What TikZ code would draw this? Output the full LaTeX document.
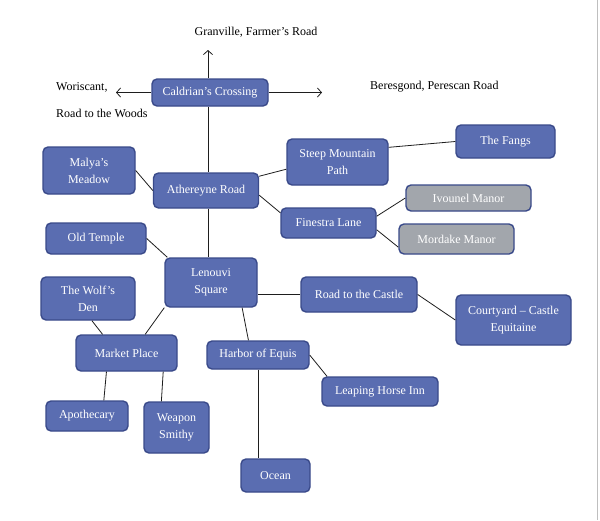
\documentclass[tikz,border=0pt]{standalone}
\usepackage{fontspec}
\setmainfont{Liberation Serif}
\usetikzlibrary{arrows.meta,calc}
\definecolor{boxblue}{RGB}{90,109,177}
\definecolor{boxedge}{RGB}{58,74,138}
\definecolor{boxgray}{RGB}{162,166,172}
\definecolor{linec}{RGB}{30,30,30}
\tikzset{
  place/.style={draw=boxedge, line width=1.4pt, fill=boxblue, rounded corners=5pt,
    text=white, align=center, inner sep=0pt,
    font=\fontsize{12}{17}\selectfont},
  grayplace/.style={place, fill=boxgray},
  conn/.style={draw=linec, line width=0.8pt},
  dirarrow/.style={conn, -{Straight Barb[length=4pt,width=9pt]}},
  lbl/.style={inner sep=0pt, font=\fontsize{12}{13}\selectfont}
}
\newcommand{\boxat}[6]{\node[#1, minimum width=#4pt, minimum height=#5pt] (#2) at (#3) {#6};}
\begin{document}
\begin{tikzpicture}[x=1pt,y=-1pt]
\useasboundingbox (0,0) rectangle (600,520);
\fill[white] (0,0) rectangle (600,520);
\draw[gray!50, line width=1pt] (597.5,0) -- (597.5,520);

% nodes
\boxat{place}{cal}{210,92.5}{116}{27}{Caldrian’s Crossing}
\boxat{place}{ath}{206,190.5}{105}{35}{Athereyne Road}
\boxat{place}{malya}{89,170.5}{92}{47}{Malya’s\\Meadow}
\boxat{place}{oldt}{96,238.5}{100}{31}{Old Temple}
\boxat{place}{len}{211,282.5}{92}{49}{Lenouvi\\Square}
\boxat{place}{wolf}{88,298.5}{94}{43}{The Wolf’s\\Den}
\boxat{place}{market}{126.5,353}{101}{36}{Market Place}
\boxat{place}{apoth}{87,416}{82}{30}{Apothecary}
\boxat{place}{weapon}{176.5,427.5}{65}{51}{Weapon\\Smithy}
\boxat{place}{harbor}{258,355}{102}{28}{Harbor of Equis}
\boxat{place}{ocean}{275.5,475.5}{69}{33}{Ocean}
\boxat{place}{leap}{380,391.5}{116}{29}{Leaping Horse Inn}
\boxat{place}{road}{359,294.5}{116}{35}{Road to the Castle}
\boxat{place}{court}{513.5,320}{115}{50}{Courtyard – Castle\\Equitaine}
\boxat{place}{steep}{337.5,162}{101}{46}{Steep Mountain\\Path}
\boxat{place}{fangs}{505.5,141.5}{99}{33}{The Fangs}
\boxat{grayplace}{ivo}{468.5,198}{125}{26}{Ivounel Manor}
\boxat{place}{fin}{328.5,223}{95}{30}{Finestra Lane}
\boxat{grayplace}{mord}{456.5,239}{115}{30}{Mordake Manor}

% free labels
\node[lbl] (gran) at (256,32) {Granville, Farmer’s Road};
\node[lbl, anchor=west] (wori) at (56,87) {Woriscant,};
\node[lbl, anchor=west] (woods) at (56,113) {Road to the Woods};
\node[lbl, anchor=west] (beres) at (370,87) {Beresgond, Perescan Road};

% arrow ends
\coordinate (vx) at (208,0);
\coordinate (up) at (208,50);
\coordinate (west) at (116,92.5);
\coordinate (east) at (322,92.5);

\draw[dirarrow] (cal.north -| vx) -- (up);
\draw[dirarrow] (cal.west) -- (west);
\draw[dirarrow] (cal.east) -- (east);

% connectors
\draw[conn] (cal.south -| vx) -- (ath.north -| vx);
\draw[conn] (ath.south -| vx) -- (len.north -| vx);
\draw[conn] (malya.east) -- (ath.west);
\draw[conn] (ath.15) -- (steep.188);
\draw[conn] (ath.-5) -- (fin.168);
\draw[conn] (steep.16) -- (fangs.west);
\draw[conn] (fin.8) -- (ivo.west);
\draw[conn] (fin.-8) -- (mord.188);
\draw[conn] (oldt.east) -- (len.150);
\draw[conn] (len.south west) -- (market.45);
\draw[conn] (wolf.-80) -- (market.142);
\draw[conn] (market.-137) -- (apoth.43);
\draw[conn] (market.-27.5) -- (weapon.120);
\draw[conn] (len.-39) -- (harbor.123);
\draw[conn] (harbor.south) -- (harbor.south |- ocean.north);
\draw[conn] (harbor.east) -- (leap.164);
\draw[conn] (road.west) -- (road.west -| len.east);
\draw[conn] (road.east) -- (court.west);
\end{tikzpicture}
\end{document}
